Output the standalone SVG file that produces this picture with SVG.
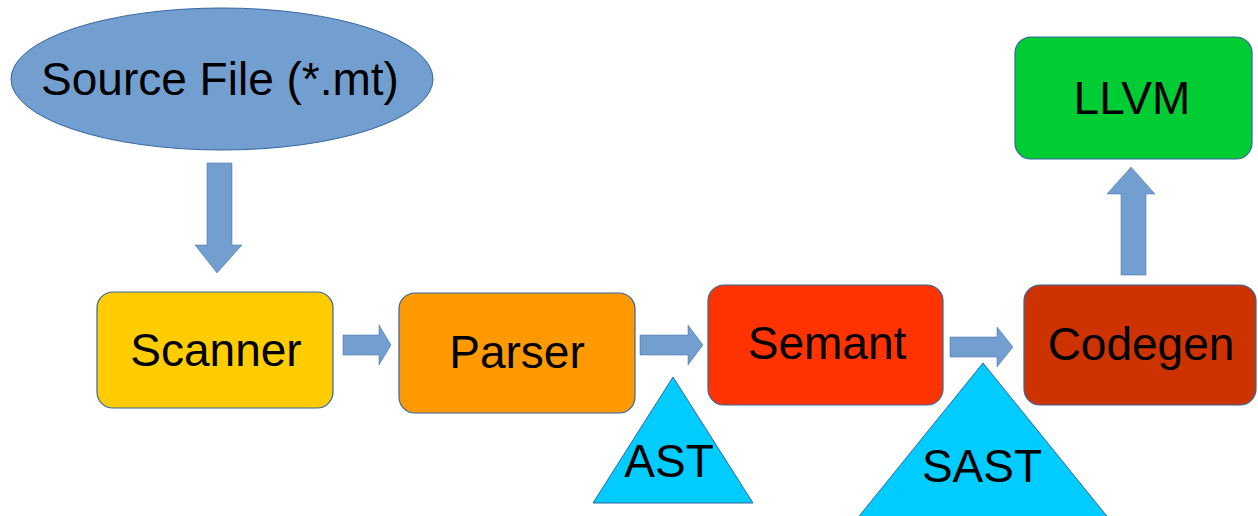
<svg xmlns="http://www.w3.org/2000/svg" width="1258" height="516" viewBox="0 0 1258 516">
<style>
.box{stroke:#3465a4;stroke-width:1.2}
.arrow{fill:#729fcf;stroke:#3465a4;stroke-width:0.8;stroke-opacity:0.6}
.tri{fill:#00ccff;stroke:#3465a4;stroke-width:1}
text{font-family:"Liberation Sans",Arial,sans-serif;font-size:46px;fill:#000;text-anchor:middle}
</style>
<rect width="1258" height="516" fill="#ffffff"/>
<g id="connectors">
<polygon class="arrow" points="207,163 232,163 232,245 242,245 217,273 195,245 207,245"/>
<polygon class="arrow" points="343,335 379,335 379,325 391,345 379,365 379,355 343,355"/>
<polygon class="arrow" points="640,335 688,335 688,325 703,345 688,365 688,355 640,355"/>
<polygon class="arrow" points="950,337 997,337 997,327 1013,347 997,367 997,357 950,357"/>
<polygon class="arrow" points="1121,275 1146,275 1146,194 1155,194 1131,167 1107,194 1121,194"/>
</g>
<g id="source">
<ellipse cx="222" cy="79" rx="211" ry="71" fill="#729fcf" stroke="#3465a4" stroke-width="1"/>
<text x="220" y="95">Source File (*.mt)</text>
</g>
<g id="scanner">
<rect class="box" x="97" y="292" width="236" height="116" rx="16" fill="#ffcc00"/>
<text x="216" y="366">Scanner</text>
</g>
<g id="parser">
<rect class="box" x="399" y="293" width="236" height="120" rx="16" fill="#ff9900"/>
<text x="517" y="368">Parser</text>
</g>
<g id="semant">
<rect class="box" x="708" y="285" width="235" height="120" rx="16" fill="#ff3300"/>
<text x="827" y="359">Semant</text>
</g>
<g id="codegen">
<rect class="box" x="1024" y="285" width="232" height="120" rx="16" fill="#cc3300"/>
<text x="1141" y="360">Codegen</text>
</g>
<g id="llvm">
<rect class="box" x="1015" y="37" width="237" height="122" rx="16" fill="#00cc33"/>
<text x="1132" y="114">LLVM</text>
</g>
<g id="ast">
<polygon class="tri" points="673,377 753,503 593,503"/>
<text x="669" y="477">AST</text>
</g>
<g id="sast">
<polygon class="tri" points="983,363 1110,520 856,520"/>
<text x="982" y="482">SAST</text>
</g>
</svg>
